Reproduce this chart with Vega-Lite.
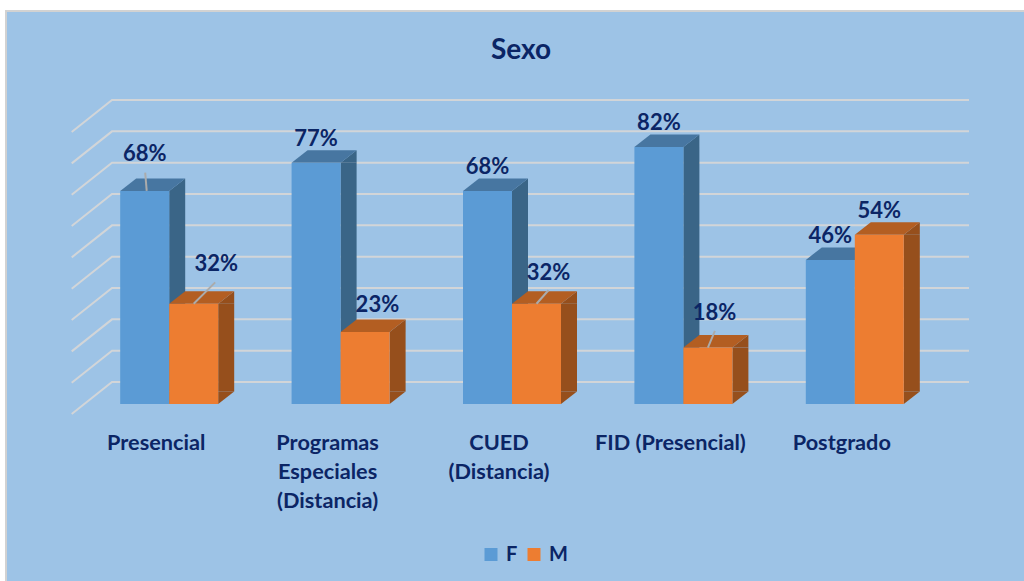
{
"$schema":"https://vega.github.io/schema/vega-lite/v6.json",
"width":1030,"height":575,
"autosize":{"type":"none"},
"padding":{"left":6,"top":11,"right":-12,"bottom":-5},
"background":"#ffffff",
"view":{"fill":"#9DC3E6","stroke":"#D2D2D2","strokeWidth":2},
"title":{"text":"Sexo","font":"Lato","fontSize":28,"fontWeight":"bold","color":"#0B2565","anchor":"middle","offset":-54},
"config":{"text":{"font":"Lato"}},
"datasets":{
"barras":[
{"cat":"Presencial","sexo":"F","valor":0.68},
{"cat":"Presencial","sexo":"M","valor":0.32},
{"cat":"Programas\nEspeciales\n(Distancia)","sexo":"F","valor":0.77},
{"cat":"Programas\nEspeciales\n(Distancia)","sexo":"M","valor":0.23},
{"cat":"CUED\n(Distancia)","sexo":"F","valor":0.68},
{"cat":"CUED\n(Distancia)","sexo":"M","valor":0.32},
{"cat":"FID (Presencial)","sexo":"F","valor":0.82},
{"cat":"FID (Presencial)","sexo":"M","valor":0.18},
{"cat":"Postgrado","sexo":"F","valor":0.46},
{"cat":"Postgrado","sexo":"M","valor":0.54}
],
"niveles":[{"nivel":0.0702},{"nivel":0.1702},{"nivel":0.2702},{"nivel":0.3702},{"nivel":0.4702},{"nivel":0.5702},{"nivel":0.6702},{"nivel":0.7702},{"nivel":0.8702},{"nivel":0.9702}]
},
"encoding":{
"x":{"field":"cat","type":"nominal","sort":null,"axis":null,"scale":{"domain":["Presencial","Programas\nEspeciales\n(Distancia)","CUED\n(Distancia)","FID (Presencial)","Postgrado"],"range":[106,963],"paddingInner":0,"paddingOuter":0}},
"y":{"field":"valor","type":"quantitative","axis":null,"stack":null,"scale":{"domain":[-0.0319,0.9703],"range":[403,89],"nice":false,"zero":false}}
},
"resolve":{"scale":{"xOffset":"independent"}},
"layer":[
{"data":{"name":"niveles"},"mark":{"type":"point","shape":"M-126 32L-85.7 0L771.3 0","size":4,"filled":false,"stroke":"#D2D5D8","strokeWidth":2,"opacity":1},"encoding":{"x":{"datum":"Presencial"},"y":{"field":"nivel","type":"quantitative"}}},
{"data":{"name":"barras"},"mark":{"type":"bar"},"encoding":{
"xOffset":{"field":"sexo","type":"nominal","scale":{"domain":["F","M"],"range":[57.2,122.2],"paddingInner":0.6735,"paddingOuter":0}},
"y2":{"datum":0.0399},
"color":{"condition":{"test":"datum.sexo==='F'","value":"#3A6587"},"value":"#964F1C"}}},
{"data":{"name":"barras"},"mark":{"type":"point","shape":"M49 0L65 -12.5L65 0Z","size":4,"filled":true,"opacity":1},"encoding":{
"xOffset":{"field":"sexo","type":"nominal","scale":{"domain":["F","M"],"range":[8.2,57.2],"padding":0}},
"color":{"condition":{"test":"datum.sexo==='F'","value":"#3A6587"},"value":"#964F1C"}}},
{"data":{"name":"barras"},"mark":{"type":"point","shape":"M49 0L49 -12.5L65 -12.5Z","size":4,"filled":true,"opacity":1},"encoding":{
"y":{"datum":0},
"xOffset":{"field":"sexo","type":"nominal","scale":{"domain":["F","M"],"range":[8.2,57.2],"padding":0}},
"color":{"condition":{"test":"datum.sexo==='F'","value":"#3A6587"},"value":"#964F1C"}}},
{"data":{"name":"barras"},"mark":{"type":"point","shape":"M0 0L49 0L65 -12.5L16 -12.5Z","size":4,"filled":true,"opacity":1},"encoding":{
"xOffset":{"field":"sexo","type":"nominal","scale":{"domain":["F","M"],"range":[8.2,57.2],"padding":0}},
"color":{"condition":{"test":"datum.sexo==='F'","value":"#4776A1"},"value":"#B35E22"}}},
{"data":{"name":"barras"},"mark":{"type":"bar"},"encoding":{
"xOffset":{"field":"sexo","type":"nominal","scale":{"domain":["F","M"],"range":[8.2,106.2],"paddingInner":0,"paddingOuter":0}},
"color":{"field":"sexo","type":"nominal","scale":{"domain":["F","M"],"range":["#5B9BD5","#ED7D31"]},
"legend":{"title":null,"orient":"none","legendX":475,"legendY":533.5,"direction":"horizontal","symbolType":"square","symbolSize":169,"symbolStrokeWidth":0,"labelFont":"Lato","labelFontSize":20,"labelFontWeight":"bold","labelColor":"#0B2565","columnPadding":6,"labelOffset":5}}}},
{"data":{"name":"barras"},"transform":[{"filter":"datum.sexo==='F' && datum.cat==='Presencial'"}],"mark":{"type":"point","shape":"M26.5 0L25 -18.3","size":4,"filled":false,"stroke":"#ABABAB","strokeWidth":2,"opacity":1},"encoding":{"xOffset":{"field":"sexo","type":"nominal","scale":{"domain":["F","M"],"range":[8.2,57.2],"padding":0}}}},
{"data":{"name":"barras"},"transform":[{"filter":"datum.sexo==='M' && datum.cat==='Presencial'"}],"mark":{"type":"point","shape":"M24.5 0L46 -21.4","size":4,"filled":false,"stroke":"#ABABAB","strokeWidth":2,"opacity":1},"encoding":{"xOffset":{"field":"sexo","type":"nominal","scale":{"domain":["F","M"],"range":[8.2,57.2],"padding":0}}}},
{"data":{"name":"barras"},"transform":[{"filter":"datum.sexo==='M' && datum.cat==='CUED\\n(Distancia)'"}],"mark":{"type":"point","shape":"M24.5 0L36.5 -13.5","size":4,"filled":false,"stroke":"#ABABAB","strokeWidth":2,"opacity":1},"encoding":{"xOffset":{"field":"sexo","type":"nominal","scale":{"domain":["F","M"],"range":[8.2,57.2],"padding":0}}}},
{"data":{"name":"barras"},"transform":[{"filter":"datum.sexo==='M' && datum.cat==='FID (Presencial)'"}],"mark":{"type":"point","shape":"M24.5 0L31.5 -16.7","size":4,"filled":false,"stroke":"#ABABAB","strokeWidth":2,"opacity":1},"encoding":{"xOffset":{"field":"sexo","type":"nominal","scale":{"domain":["F","M"],"range":[8.2,57.2],"padding":0}}}},
{"data":{"name":"barras"},"transform":[{"filter":"(datum.sexo==='F' && datum.cat!=='Presencial') || (datum.sexo==='M' && datum.cat==='Postgrado')"}],"mark":{"type":"text","dx":24.5,"dy":-24,"fontSize":22,"fontWeight":"bold","color":"#0B2565","baseline":"middle"},"encoding":{"text":{"field":"valor","type":"quantitative","format":".0%"},"xOffset":{"field":"sexo","type":"nominal","scale":{"domain":["F","M"],"range":[8.2,57.2],"padding":0}}}},
{"data":{"name":"barras"},"transform":[{"filter":"datum.sexo==='F' && datum.cat==='Presencial'"}],"mark":{"type":"text","dx":24.5,"dy":-37,"fontSize":22,"fontWeight":"bold","color":"#0B2565","baseline":"middle"},"encoding":{"text":{"field":"valor","type":"quantitative","format":".0%"},"xOffset":{"field":"sexo","type":"nominal","scale":{"domain":["F","M"],"range":[8.2,57.2],"padding":0}}}},
{"data":{"name":"barras"},"transform":[{"filter":"datum.sexo==='M' && datum.cat==='Presencial'"}],"mark":{"type":"text","dx":47,"dy":-39.7,"fontSize":22,"fontWeight":"bold","color":"#0B2565","baseline":"middle"},"encoding":{"text":{"field":"valor","type":"quantitative","format":".0%"},"xOffset":{"field":"sexo","type":"nominal","scale":{"domain":["F","M"],"range":[8.2,57.2],"padding":0}}}},
{"data":{"name":"barras"},"transform":[{"filter":"datum.sexo==='M' && datum.valor===0.23"}],"mark":{"type":"text","dx":36.8,"dy":-26.5,"fontSize":22,"fontWeight":"bold","color":"#0B2565","baseline":"middle"},"encoding":{"text":{"field":"valor","type":"quantitative","format":".0%"},"xOffset":{"field":"sexo","type":"nominal","scale":{"domain":["F","M"],"range":[8.2,57.2],"padding":0}}}},
{"data":{"name":"barras"},"transform":[{"filter":"datum.sexo==='M' && datum.cat==='CUED\\n(Distancia)'"}],"mark":{"type":"text","dx":36.5,"dy":-31,"fontSize":22,"fontWeight":"bold","color":"#0B2565","baseline":"middle"},"encoding":{"text":{"field":"valor","type":"quantitative","format":".0%"},"xOffset":{"field":"sexo","type":"nominal","scale":{"domain":["F","M"],"range":[8.2,57.2],"padding":0}}}},
{"data":{"name":"barras"},"transform":[{"filter":"datum.sexo==='M' && datum.valor===0.18"}],"mark":{"type":"text","dx":31.2,"dy":-35,"fontSize":22,"fontWeight":"bold","color":"#0B2565","baseline":"middle"},"encoding":{"text":{"field":"valor","type":"quantitative","format":".0%"},"xOffset":{"field":"sexo","type":"nominal","scale":{"domain":["F","M"],"range":[8.2,57.2],"padding":0}}}},
{"data":{"name":"barras"},"transform":[{"filter":"datum.sexo==='F'"}],"mark":{"type":"text","dx":-41.5,"fontSize":21.7,"fontWeight":"bold","color":"#0B2565","baseline":"alphabetic","lineBreak":"\n","lineHeight":29},"encoding":{"y":{"datum":-0.1468},"text":{"field":"cat","type":"nominal"}}}
]
}
